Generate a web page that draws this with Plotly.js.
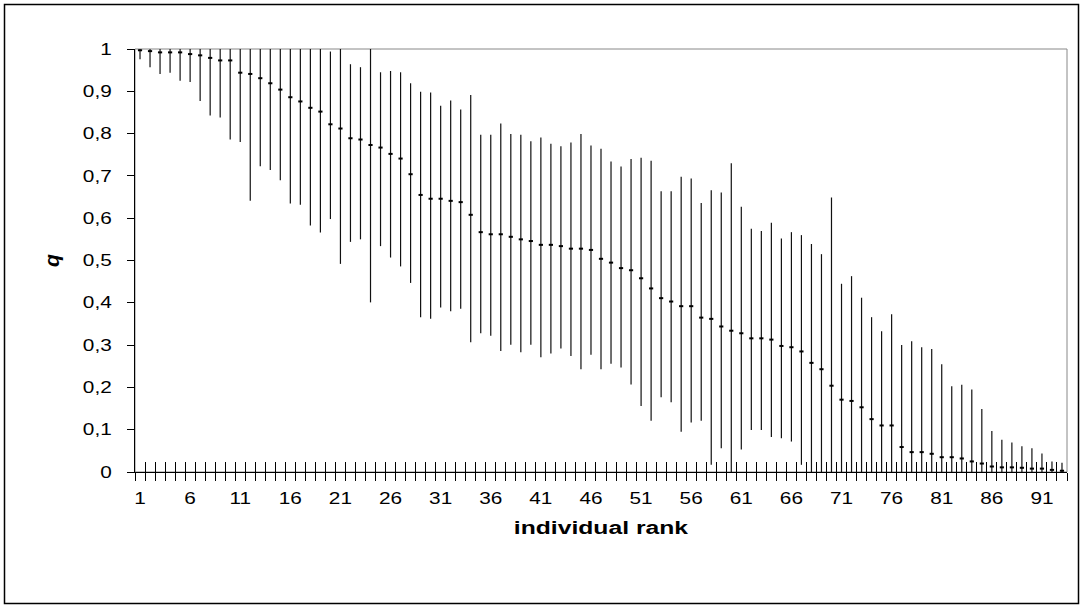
<!DOCTYPE html>
<html>
<head>
<meta charset="utf-8">
<script src="https://cdn.plot.ly/plotly-3.0.1.min.js"></script>
<style>
  html, body { margin: 0; padding: 0; background: #ffffff; }
  #chart { width: 1083px; height: 608px; }
</style>
</head>
<body>
<div id="chart"></div>
<script>
// Estimated q value per individual rank (point marker)
const q = [
  0.997, 0.995, 0.992, 0.992, 0.992, 0.988, 0.985, 0.979, 0.973, 0.973,
  0.944, 0.941, 0.931, 0.919, 0.904, 0.886, 0.876, 0.861, 0.852, 0.822,
  0.812, 0.789, 0.786, 0.773, 0.767, 0.752, 0.741, 0.704, 0.655, 0.646,
  0.646, 0.641, 0.638, 0.608, 0.567, 0.562, 0.562, 0.556, 0.550, 0.546,
  0.537, 0.537, 0.534, 0.528, 0.528, 0.525, 0.504, 0.495, 0.482, 0.477,
  0.458, 0.434, 0.411, 0.403, 0.392, 0.392, 0.365, 0.362, 0.344, 0.334,
  0.328, 0.316, 0.316, 0.313, 0.298, 0.295, 0.285, 0.258, 0.243, 0.204,
  0.171, 0.168, 0.153, 0.125, 0.110, 0.110, 0.059, 0.047, 0.047, 0.043,
  0.035, 0.035, 0.032, 0.025, 0.020, 0.013, 0.011, 0.011, 0.010, 0.008,
  0.008, 0.005, 0.003
];
// Upper end of each interval
const qHigh = [
  1, 1, 1, 1, 1, 1, 1, 1, 1, 1,
  1, 1, 1, 1, 1, 1, 1, 1, 1, 0.994,
  1, 0.964, 0.957, 1, 0.945, 0.948, 0.945, 0.919, 0.899, 0.897,
  0.866, 0.878, 0.857, 0.891, 0.797, 0.797, 0.824, 0.799, 0.797, 0.782,
  0.791, 0.776, 0.770, 0.779, 0.799, 0.772, 0.764, 0.734, 0.722, 0.740,
  0.743, 0.736, 0.664, 0.664, 0.698, 0.694, 0.636, 0.666, 0.661, 0.730,
  0.627, 0.575, 0.570, 0.589, 0.552, 0.567, 0.560, 0.539, 0.515, 0.649,
  0.445, 0.463, 0.412, 0.366, 0.333, 0.373, 0.300, 0.309, 0.295, 0.291,
  0.255, 0.203, 0.206, 0.195, 0.149, 0.097, 0.076, 0.070, 0.061, 0.056,
  0.044, 0.025, 0.022
];
// Lower end of each interval
const qLow = [
  0.976, 0.957, 0.941, 0.944, 0.925, 0.922, 0.877, 0.843, 0.838, 0.786,
  0.780, 0.641, 0.723, 0.714, 0.690, 0.635, 0.632, 0.583, 0.566, 0.598,
  0.492, 0.544, 0.550, 0.401, 0.534, 0.507, 0.486, 0.447, 0.366, 0.362,
  0.389, 0.380, 0.386, 0.307, 0.328, 0.322, 0.286, 0.301, 0.283, 0.301,
  0.271, 0.280, 0.292, 0.274, 0.243, 0.277, 0.243, 0.256, 0.247, 0.207,
  0.156, 0.121, 0.177, 0.165, 0.095, 0.117, 0.121, 0.017, 0.056, 0,
  0.053, 0.099, 0.099, 0.083, 0.080, 0.072, 0.017, 0, 0, 0,
  0, 0, 0, 0, 0, 0, 0, 0, 0, 0,
  0, 0, 0, 0, 0, 0, 0, 0, 0, 0,
  0, 0, 0
];
// Category axis labels
const tickPositions = [1, 6, 11, 16, 21, 26, 31, 36, 41, 46, 51, 56, 61, 66, 71, 76, 81, 86, 91];
const tickLabels = ['1', '6', '11', '16', '21', '26', '31', '36', '41', '46', '51', '56', '61', '66', '71', '76', '81', '86', '91'];
const yTitle = 'q';
const xTitle = 'individual rank';

const ranks = q.map((_, i) => i + 1);
const nCat = ranks.length;
const boundaries = [];
for (let i = 0; i <= nCat; i++) boundaries.push(i + 0.5);
const xRange = [0.5, nCat + 0.5];

const FONT = 'Liberation Sans, Arial, sans-serif';

const mainTrace = {
  type: 'scatter',
  mode: 'markers',
  x: ranks,
  y: q,
  xaxis: 'x3',
  yaxis: 'y',
  marker: { symbol: 'line-ew', size: 3, color: '#000', line: { color: '#000', width: 2 } },
  error_y: {
    type: 'data',
    symmetric: false,
    array: qHigh.map((h, i) => h - q[i]),
    arrayminus: qLow.map((l, i) => q[i] - l),
    width: 0,
    thickness: 1.2,
    color: '#111111'
  },
  hoverinfo: 'skip',
  showlegend: false,
  cliponaxis: true
};
const dummy1 = { type: 'scatter', mode: 'markers', x: [], y: [], xaxis: 'x', yaxis: 'y', showlegend: false };
const dummy2 = { type: 'scatter', mode: 'markers', x: [], y: [], xaxis: 'x2', yaxis: 'y', showlegend: false };

const W = 1083, H = 608;
const M = { l: 135, r: 16, t: 49, b: 136 };
const pw = W - M.l - M.r, ph = H - M.t - M.b;
const px = v => (v - M.l) / pw;
const py = v => 1 - (v - M.t) / ph;

const layout = {
  width: W,
  height: H,
  margin: M,
  paper_bgcolor: '#ffffff',
  plot_bgcolor: '#ffffff',
  separators: ', ',
  showlegend: false,
  font: { family: FONT, color: '#000', size: 16 },
  xaxis: {
    domain: [0, 1],
    range: xRange,
    tickmode: 'array',
    tickvals: boundaries,
    ticktext: boundaries.map(() => ''),
    ticks: 'outside',
    ticklen: 8,
    tickwidth: 1,
    tickcolor: '#000',
    showline: true,
    linecolor: '#000',
    linewidth: 1,
    showgrid: false,
    zeroline: false,
    showticklabels: false,
    fixedrange: true
  },
  xaxis2: {
    overlaying: 'x',
    anchor: 'y',
    side: 'bottom',
    range: xRange,
    tickmode: 'array',
    tickvals: boundaries,
    ticktext: boundaries.map(() => ''),
    ticks: 'inside',
    ticklen: 10,
    tickwidth: 1,
    tickcolor: '#000',
    showline: false,
    showgrid: false,
    zeroline: false,
    showticklabels: false,
    fixedrange: true
  },
  xaxis3: {
    overlaying: 'x',
    anchor: 'y',
    side: 'bottom',
    range: xRange,
    tickmode: 'array',
    tickvals: tickPositions,
    ticktext: tickLabels,
    ticks: 'outside',
    ticklen: 12,
    tickcolor: 'rgba(0,0,0,0)',
    showline: false,
    showgrid: false,
    zeroline: false,
    tickfont: { family: FONT, size: 16, color: '#000' },
    title: { text: '<b>' + xTitle + '</b>', font: { family: FONT, size: 19, color: '#000' }, standoff: 14 },
    automargin: false,
    fixedrange: true
  },
  yaxis: {
    range: [0, 1],
    tick0: 0,
    dtick: 0.1,
    ticks: 'outside',
    ticklen: 7,
    tickwidth: 1,
    tickcolor: '#000',
    showline: true,
    linecolor: '#000',
    linewidth: 1,
    showgrid: false,
    zeroline: false,
    tickfont: { family: FONT, size: 16, color: '#000' },
    ticklabelstandoff: 12,
    title: { text: '<b><i>' + yTitle + '</i></b>', font: { family: FONT, size: 21, color: '#000' }, standoff: 24 },
    automargin: false,
    fixedrange: true
  },
  shapes: [
    { type: 'rect', xref: 'paper', yref: 'paper', x0: 0, x1: 1, y0: 0, y1: 1,
      line: { color: '#888888', width: 1 }, layer: 'below' },
    { type: 'rect', xref: 'paper', yref: 'paper', x0: px(4.5), x1: px(1078.5), y0: py(4.5), y1: py(603.5),
      line: { color: '#000000', width: 1.5 }, layer: 'below' }
  ]
};

// The reference text is horizontally widened; widen the SVG text about its anchor.
function widenText(gd, S) {
  const sel = gd.querySelectorAll('g.x3tick text, g.ytick text, .g-x3title text');
  sel.forEach(t => {
    const bb = t.getBBox();
    const anchor = t.getAttribute('text-anchor') || 'start';
    let ax = bb.x + bb.width / 2;
    if (anchor === 'end') ax = bb.x + bb.width;
    else if (anchor === 'start') ax = bb.x;
    const prev = t.getAttribute('transform') || '';
    t.setAttribute('transform', prev + ' translate(' + ax + ',0) scale(' + S + ',1) translate(' + (-ax) + ',0)');
  });
}

Plotly.newPlot('chart', [dummy1, dummy2, mainTrace], layout, { staticPlot: true, displayModeBar: false })
  .then(gd => widenText(gd, 1.3));
</script>
</body>
</html>
